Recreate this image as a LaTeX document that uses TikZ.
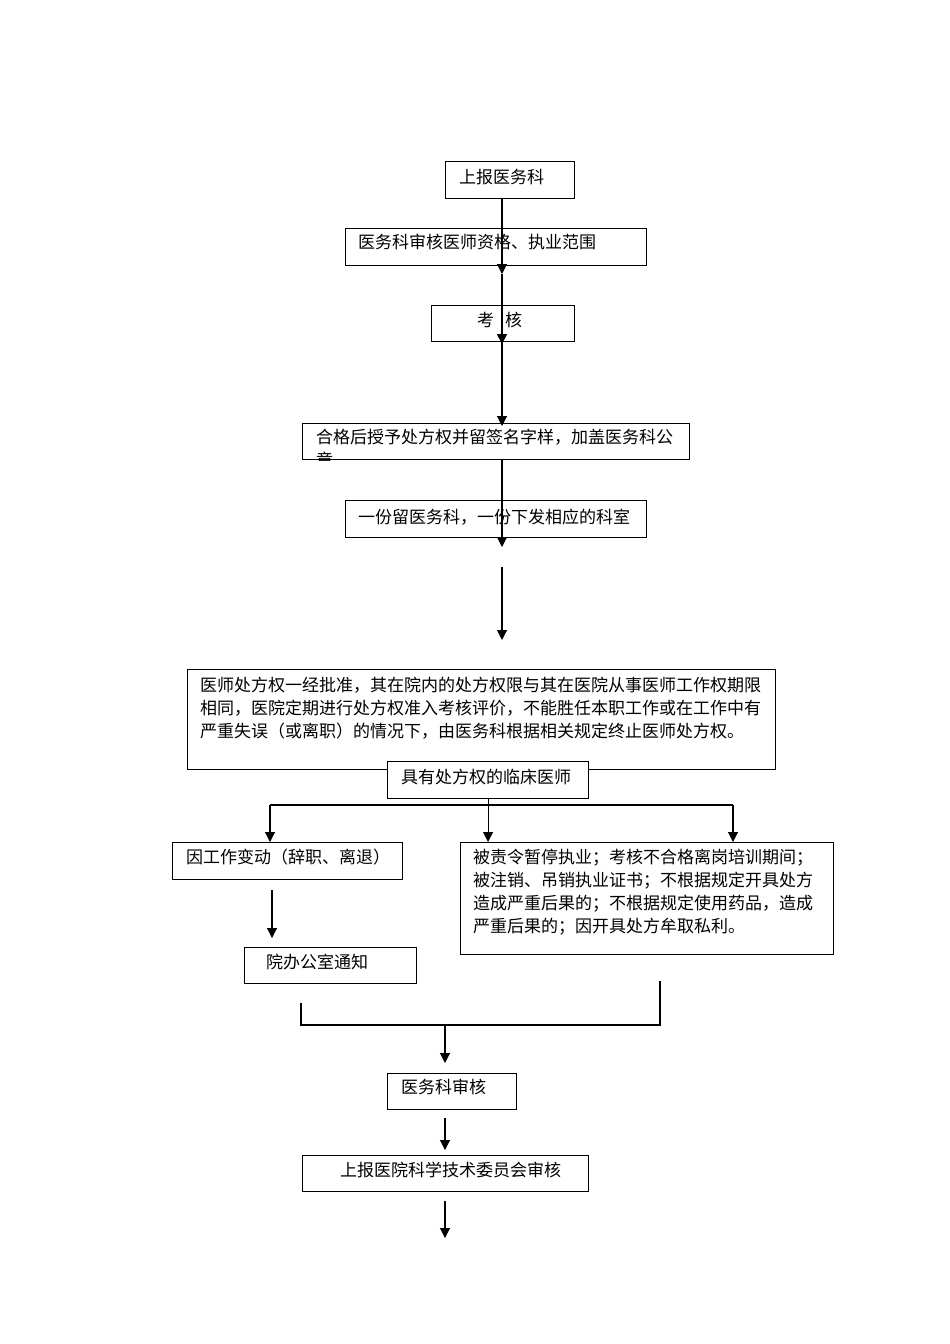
\documentclass[tikz,border=0pt]{standalone}
\usepackage{fontspec}
\newfontfamily\cjk{Noto Sans CJK SC}
\usetikzlibrary{arrows.meta}
\begin{document}
\begin{tikzpicture}[x=1pt,y=-1pt,
  box/.style={draw, line width=1.1pt, rectangle, inner sep=0pt, anchor=north west, fill=white},
  txt/.style={inner sep=0pt, anchor=base west, font=\cjk\fontsize{17}{23}\selectfont},
  arr/.style={line width=1.1pt, -{Triangle[length=10pt,width=10pt]}},
  ln/.style={line width=1.1pt}]
\fill[white] (0,0) rectangle (950,1344);
\useasboundingbox (0,0) rectangle (950,1344);

% boxes
\node[box, minimum width=129pt, minimum height=37pt] (b1) at (445,161) {};
\node[box, minimum width=301pt, minimum height=37pt] (b2) at (345,228) {};
\node[box, minimum width=143pt, minimum height=36pt] (b3) at (431,305) {};
\node[box, minimum width=387pt, minimum height=36pt] (b4) at (302,423) {};
\node[box, minimum width=301pt, minimum height=37pt] (b5) at (345,500) {};
\node[box, minimum width=588pt, minimum height=100pt] (b6) at (187,669) {};
\node[box, minimum width=201pt, minimum height=37pt] (b7) at (387,761) {};
\node[box, minimum width=230pt, minimum height=37pt] (b8) at (172,842) {};
\node[box, minimum width=373pt, minimum height=112pt] (b9) at (460,842) {};
\node[box, minimum width=172pt, minimum height=36pt] (b10) at (244,947) {};
\node[box, minimum width=129pt, minimum height=36pt] (b11) at (387,1073) {};
\node[box, minimum width=286pt, minimum height=36pt] (b12) at (302,1155) {};

% texts
\node[txt] (t1) at (459,183) {上报医务科};
\node[txt] (t2) at (358,248) {医务科审核医师资格、执业范围};
\node[txt] (t3) at (477,326) {考\hspace{11pt}核};
\node[txt] (t4) at (316,443) {合格后授予处方权并留签名字样，加盖医务科公};
\begin{scope}
  \clip (b4.south west) rectangle (b4.north east);
  \node[txt] (t4b) at (316,466) {章};
\end{scope}
\node[txt] (t5) at (358,523) {一份留医务科，一份下发相应的科室};
\node[txt] (t6a) at (200,691) {医师处方权一经批准，其在院内的处方权限与其在医院从事医师工作权期限};
\node[txt] (t6b) at (200,714) {相同，医院定期进行处方权准入考核评价，不能胜任本职工作或在工作中有};
\node[txt] (t6c) at (200,737) {严重失误（或离职）的情况下，由医务科根据相关规定终止医师处方权。};
\node[txt] (t7) at (401,783) {具有处方权的临床医师};
\node[txt] (t8) at (186,863) {因工作变动（辞职、离退）};
\node[txt] (t9a) at (473,863) {被责令暂停执业；考核不合格离岗培训期间；};
\node[txt] (t9b) at (473,886) {被注销、吊销执业证书；不根据规定开具处方};
\node[txt] (t9c) at (473,909) {造成严重后果的；不根据规定使用药品，造成};
\node[txt] (t9d) at (473,932) {严重后果的；因开具处方牟取私利。};
\node[txt] (t10) at (266,968) {院办公室通知};
\node[txt] (t11) at (401,1093) {医务科审核};
\node[txt] (t12) at (340,1176) {上报医院科学技术委员会审核};

% coordinates
\coordinate (x502) at (502,0);
\coordinate (a1) at (502,274);
\coordinate (a2) at (502,547);
\coordinate (a3) at (502,567);
\coordinate (a4) at (502,640);
\coordinate (jL) at (270,805);
\coordinate (jR) at (733,805);
\coordinate (c1) at (272,890);
\coordinate (c2) at (272,938);
\coordinate (m1) at (301,1003);
\coordinate (m2) at (301,1025);
\coordinate (m3) at (660,1025);
\coordinate (m4) at (660,981);
\coordinate (d0) at (445,1025);
\coordinate (d1) at (445,1063);
\coordinate (e0) at (445,1118);
\coordinate (e1) at (445,1150);
\coordinate (f0) at (445,1201);
\coordinate (f1) at (445,1238);

% connectors
\draw[arr] (b1.south -| x502) -- (a1);
\draw[arr] (a1) -- ([yshift=-2pt]b3.south -| x502);
\draw[arr] (b3.south -| x502) -- ([yshift=-3pt]b4.north -| x502);
\draw[arr] (b4.south -| x502) -- (a2);
\draw[arr] (a3) -- (a4);
\draw[ln] (jL) -- (jR);
\draw[arr] (b7.south) -- (b9.north -| b7.south);
\draw[arr] (jL) -- (b8.north -| jL);
\draw[arr] (jR) -- (b9.north -| jR);
\draw[arr] (c1) -- (c2);
\draw[ln] (m1) -- (m2) -- (m3) -- (m4);
\draw[arr] (d0) -- (d1);
\draw[arr] (e0) -- (e1);
\draw[arr] (f0) -- (f1);
\end{tikzpicture}
\end{document}
